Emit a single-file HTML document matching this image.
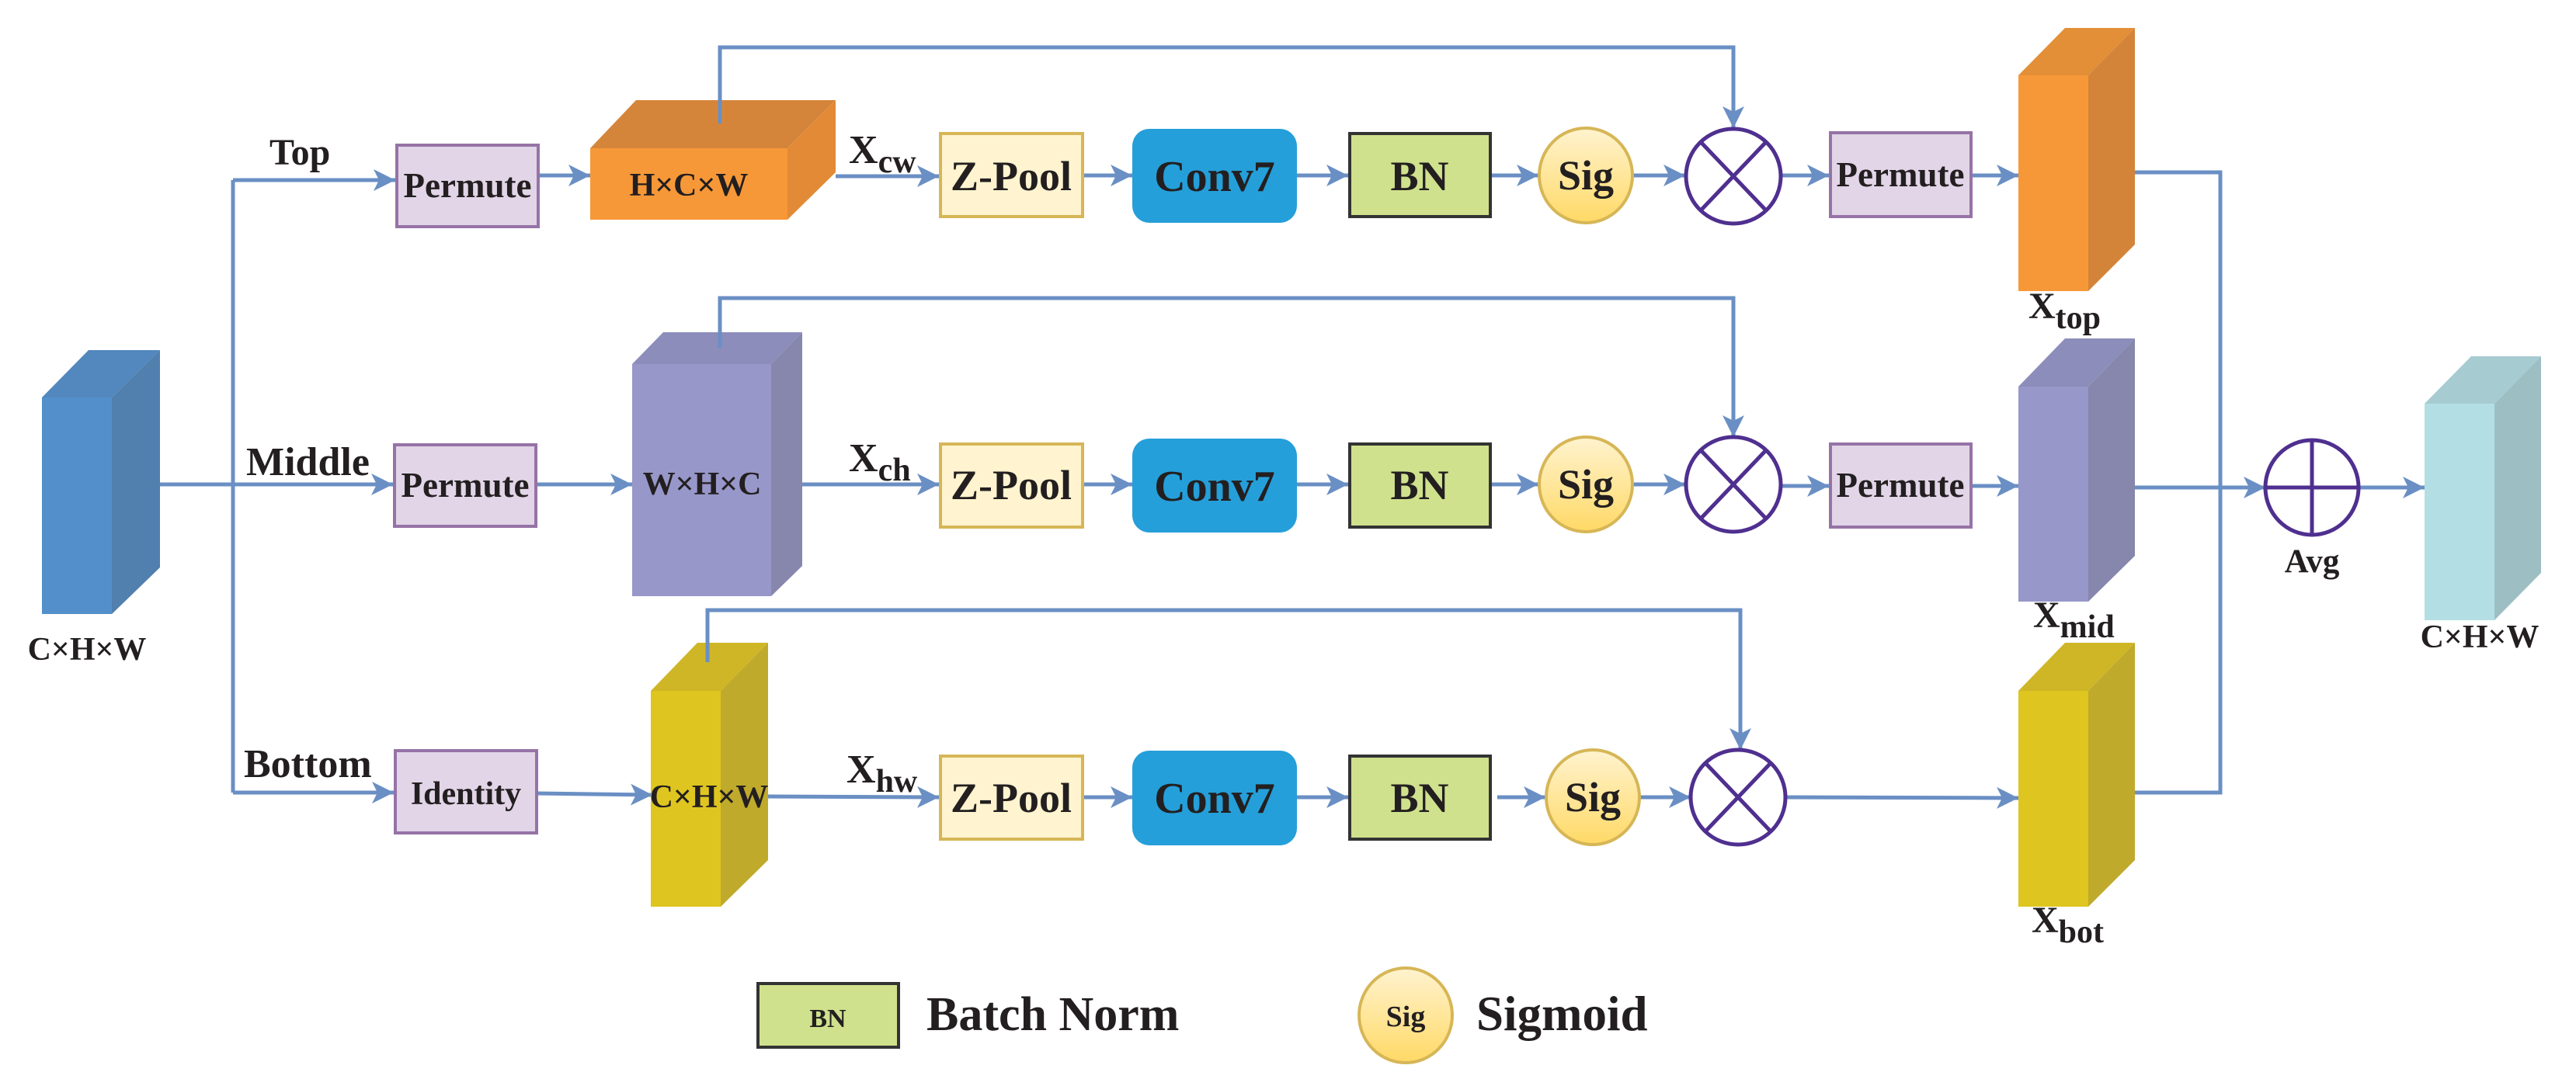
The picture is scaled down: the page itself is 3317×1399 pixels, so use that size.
<!DOCTYPE html>
<html><head><meta charset="utf-8"><style>
html,body{margin:0;padding:0;background:#fff}
svg{display:block}
text{font-family:"Liberation Serif",serif;font-weight:bold;fill:#231f20}
</style></head><body>
<svg width="3317" height="1399" viewBox="0 0 3317 1399" xmlns="http://www.w3.org/2000/svg">
<defs>
<marker id="a" markerUnits="userSpaceOnUse" markerWidth="30" markerHeight="32" refX="28" refY="16" orient="auto">
<path d="M0,2 L28,16 L0,30 L7,16 Z" fill="#6a8fc4"/>
</marker>
<linearGradient id="sg" x1="0" y1="0" x2="0" y2="1"><stop offset="0" stop-color="#fff3cf"/><stop offset="1" stop-color="#ffd966"/></linearGradient>
</defs>
<g fill="none" stroke="#6a8fc4" stroke-width="5">
<!-- input distribution -->
<polyline points="206,624 300,624"/>
<polyline points="300,232 300,1021"/>
<polyline points="300,232 509,232" marker-end="url(#a)"/>
<polyline points="300,624 506,624" marker-end="url(#a)"/>
<polyline points="300,1021 507,1021" marker-end="url(#a)"/>
<!-- top row -->
<polyline points="692,226 760,226" marker-end="url(#a)"/>
<polyline points="1076,227 1209,227" marker-end="url(#a)"/>
<polyline points="1394,226 1458,226" marker-end="url(#a)"/>
<polyline points="1670,226 1736,226" marker-end="url(#a)"/>
<polyline points="1919,226 1981,226" marker-end="url(#a)"/>
<polyline points="2103,226 2170,226" marker-end="url(#a)"/>
<polyline points="2294,226 2355,226" marker-end="url(#a)"/>
<polyline points="2538,226 2599,226" marker-end="url(#a)"/>
<polyline points="927,159 927,61 2232,61 2232,165" marker-end="url(#a)"/>
<!-- middle row -->
<polyline points="691,624 814,624" marker-end="url(#a)"/>
<polyline points="1033,624 1209,624" marker-end="url(#a)"/>
<polyline points="1394,624 1458,624" marker-end="url(#a)"/>
<polyline points="1670,624 1736,624" marker-end="url(#a)"/>
<polyline points="1919,624 1981,624" marker-end="url(#a)"/>
<polyline points="2103,624 2170,624" marker-end="url(#a)"/>
<polyline points="2294,626 2355,626" marker-end="url(#a)"/>
<polyline points="2538,626 2599,626" marker-end="url(#a)"/>
<polyline points="927,448 927,384 2232,384 2232,563" marker-end="url(#a)"/>
<!-- bottom row -->
<polyline points="692,1022 840,1024" marker-end="url(#a)"/>
<polyline points="989,1026 1209,1027" marker-end="url(#a)"/>
<polyline points="1394,1027 1458,1027" marker-end="url(#a)"/>
<polyline points="1670,1027 1736,1027" marker-end="url(#a)"/>
<polyline points="1928,1027 1990,1027" marker-end="url(#a)"/>
<polyline points="2112,1027 2177,1027" marker-end="url(#a)"/>
<polyline points="2300,1027 2599,1028" marker-end="url(#a)"/>
<polyline points="911,853 911,786 2241,786 2241,966" marker-end="url(#a)"/>
<!-- output merge -->
<polyline points="2749,222 2859,222 2859,1021 2749,1021"/>
<polyline points="2749,628 2917,628" marker-end="url(#a)"/>
<polyline points="3036,628 3122,628" marker-end="url(#a)"/>
</g>

<!-- input blue -->
<polygon points="54,512 114,451 206,451 144,512" fill="#5288bd"/>
<polygon points="144,512 206,451 206,731 144,791" fill="#517fae"/>
<rect x="54" y="512" width="90" height="279" fill="#5390cb"/>
<!-- HxCxW orange -->
<polygon points="760,191 819,129 1076,129 1014,191" fill="#d5853a"/>
<polygon points="1014,191 1076,129 1076,222 1014,283" fill="#e38a37"/>
<rect x="760" y="191" width="254" height="92" fill="#f79838"/>
<line x1="927" y1="129" x2="927" y2="159" stroke="#6a8fc4" stroke-width="5"/>
<!-- WxHxC purple -->
<polygon points="814,469 854,428 1033,428 993,469" fill="#8c8dba"/>
<polygon points="993,469 1033,428 1033,729 993,768" fill="#8786ad"/>
<rect x="814" y="469" width="179" height="299" fill="#9797c9"/>
<line x1="927" y1="428" x2="927" y2="448" stroke="#6a8fc4" stroke-width="5"/>
<!-- CxHxW yellow -->
<polygon points="838,890 898,828 989,828 928,890" fill="#cfb626"/>
<polygon points="928,890 989,828 989,1108 928,1168" fill="#c0aa2c"/>
<rect x="838" y="890" width="90" height="278" fill="#dfc520"/>
<line x1="911" y1="828" x2="911" y2="853" stroke="#6a8fc4" stroke-width="5"/>
<!-- Xtop -->
<polygon points="2599,97 2659,36 2749,36 2689,97" fill="#e38f38"/>
<polygon points="2689,97 2749,36 2749,315 2689,375" fill="#d38439"/>
<rect x="2599" y="97" width="90" height="278" fill="#f79838"/>
<!-- Xmid -->
<polygon points="2599,498 2659,436 2749,436 2689,498" fill="#8c8dba"/>
<polygon points="2689,498 2749,436 2749,716 2689,775" fill="#8786ad"/>
<rect x="2599" y="498" width="90" height="277" fill="#9797c9"/>
<!-- Xbot -->
<polygon points="2599,890 2659,828 2749,828 2689,890" fill="#cfb626"/>
<polygon points="2689,890 2749,828 2749,1108 2689,1168" fill="#c0aa2c"/>
<rect x="2599" y="890" width="90" height="278" fill="#dfc520"/>
<!-- output cyan -->
<polygon points="3122,520 3182,459 3272,459 3212,520" fill="#a6cbd0"/>
<polygon points="3212,520 3272,459 3272,738 3212,799" fill="#9dbfc3"/>
<rect x="3122" y="520" width="90" height="279" fill="#b3dfe4"/>

<!-- permute / identity boxes -->
<g fill="#e1d5e7" stroke="#9673a6" stroke-width="4">
<rect x="511" y="187" width="182" height="105"/>
<rect x="508" y="573" width="182" height="105"/>
<rect x="509" y="967" width="182" height="106"/>
<rect x="2357" y="171" width="181" height="108"/>
<rect x="2357" y="572" width="181" height="107"/>
</g>
<!-- zpool -->
<g fill="#fff4cf" stroke="#d6b656" stroke-width="4">
<rect x="1211" y="172" width="183" height="107"/>
<rect x="1211" y="572" width="183" height="107"/>
<rect x="1211" y="974" width="183" height="107"/>
</g>
<!-- conv7 -->
<g fill="#259fd9">
<rect x="1458" y="166" width="212" height="121" rx="22"/>
<rect x="1458" y="565" width="212" height="121" rx="22"/>
<rect x="1458" y="967" width="212" height="122" rx="22"/>
</g>
<!-- BN -->
<g fill="#cfe18d" stroke="#333" stroke-width="4">
<rect x="1738" y="172" width="181" height="107"/>
<rect x="1738" y="572" width="181" height="107"/>
<rect x="1738" y="974" width="181" height="107"/>
<rect x="976" y="1267" width="181" height="82"/>
</g>
<!-- Sig -->
<g fill="url(#sg)" stroke="#d6b656" stroke-width="4">
<ellipse cx="2042" cy="226" rx="60" ry="61"/>
<ellipse cx="2042" cy="624" rx="60" ry="61"/>
<ellipse cx="2051" cy="1027" rx="60" ry="61"/>
<ellipse cx="1810" cy="1308" rx="60" ry="61"/>
</g>
<!-- multiply circles -->
<g fill="#fff" stroke="#4f2f8f" stroke-width="5">
<ellipse cx="2232" cy="227" rx="61" ry="61"/>
<path d="M2190,183 L2274,271 M2274,183 L2190,271"/>
<ellipse cx="2232" cy="624" rx="61" ry="61"/>
<path d="M2190,580 L2274,668 M2274,580 L2190,668"/>
<ellipse cx="2238" cy="1027" rx="61" ry="61"/>
<path d="M2196,983 L2280,1071 M2280,983 L2196,1071"/>
<ellipse cx="2977" cy="628" rx="60" ry="61"/>
<path d="M2917,628 L3037,628 M2977,567 L2977,689"/>
</g>

<!-- texts -->
<g text-anchor="middle">
<text x="602" y="254" font-size="45">Permute</text>
<text x="599" y="640" font-size="45">Permute</text>
<text x="600" y="1036" font-size="42">Identity</text>
<text x="2447" y="240" font-size="45">Permute</text>
<text x="2447" y="640" font-size="45">Permute</text>
<text x="887" y="252" font-size="42">H×C×W</text>
<text x="904" y="637" font-size="42">W×H×C</text>
<text x="913" y="1040" font-size="42">C×H×W</text>
<text x="112" y="850" font-size="42">C×H×W</text>
<text x="3193" y="834" font-size="42">C×H×W</text>
<text x="2977" y="737" font-size="43">Avg</text>
<g font-size="54"><text x="1302" y="245">Z-Pool</text><text x="1302" y="643">Z-Pool</text><text x="1302" y="1046">Z-Pool</text></g>
<g font-size="56"><text x="1564" y="246">Conv7</text><text x="1564" y="645">Conv7</text><text x="1564" y="1047">Conv7</text></g>
<g font-size="54"><text x="1828" y="245">BN</text><text x="1828" y="643">BN</text><text x="1828" y="1046">BN</text></g>
<g font-size="54"><text x="2042" y="244">Sig</text><text x="2042" y="642">Sig</text><text x="2051" y="1045">Sig</text></g>
<text x="1066" y="1323" font-size="34">BN</text>
<text x="1810" y="1322" font-size="38">Sig</text>
</g>
<text x="347" y="212" font-size="48">Top</text>
<text x="317" y="612" font-size="52">Middle</text>
<text x="314" y="1001" font-size="52">Bottom</text>
<text x="1193" y="1327" font-size="62">Batch Norm</text>
<text x="1901" y="1327" font-size="63">Sigmoid</text>
<text x="1093" y="210" font-size="52">X<tspan font-size="42" dy="12">cw</tspan></text>
<text x="1093" y="607" font-size="52">X<tspan font-size="42" dy="12">ch</tspan></text>
<text x="1090" y="1008" font-size="52">X<tspan font-size="42" dy="12">hw</tspan></text>
<text x="2612" y="410" font-size="48">X<tspan font-size="42" dy="13">top</tspan></text>
<text x="2618" y="808" font-size="48">X<tspan font-size="42" dy="13">mid</tspan></text>
<text x="2616" y="1201" font-size="48">X<tspan font-size="42" dy="13">bot</tspan></text>
</svg>
</body></html>
